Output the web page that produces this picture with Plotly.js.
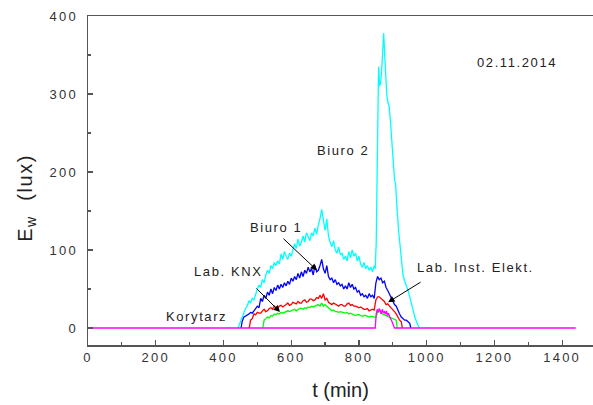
<!DOCTYPE html>
<html>
<head>
<meta charset="utf-8">
<script src="https://cdn.plot.ly/plotly-3.0.1.min.js"></script>
<style>
  html, body { margin: 0; padding: 0; background: #fff; }
  #chart { width: 593px; height: 405px; }
  .xtick text, .ytick text { letter-spacing: 2.2px; }
  .annotation-text { letter-spacing: 1.6px; }
</style>
</head>
<body>
<div id="chart"></div>
<script>
// ---- Data (time in minutes, illuminance in lux) ----
// Biuro 2 (cyan)
const biuro2T = [443,450,455,460,465,470,475,480,485,490,495,500,505,510,515,520,525,530,535,540,545,550,555,560,565,570,575,580,585,590,595,600,605,610,615,620,625,630,635,640,645,650,655,660,665,670,675,680,685,690,695,700,705,710,715,720,725,730,735,740,745,750,755,760,765,770,775,780,785,790,795,800,805,810,815,820,825,830,835,840,845,848,851,853,856,858,861,864,867,870,873,876,879,882,885,889,893,897,901,905,908,910,913,917,921,925,930,935,940,945,950,955,960,965,970,975,978];
const biuro2V = [0,8,15,20,25,28,35,32,38,36,45,50,55,52,62,58,68,74,70,80,76,84,80,86,82,95,88,98,92,88,96,92,100,108,102,114,105,110,118,110,122,116,112,122,118,128,120,132,140,152,135,125,140,118,110,104,112,100,96,104,94,96,88,92,86,98,90,100,92,96,86,92,82,78,84,76,80,74,78,72,80,76,110,200,320,335,310,315,330,355,378,350,320,300,290,285,265,240,215,190,185,165,150,125,105,95,68,60,55,48,40,30,20,14,8,3,0];

// Biuro 1 (blue): first sample, then 5-min samples from 455 to 950, last sample
const biuro1Start = 452, biuro1End = 953, biuro1Grid0 = 455;
const biuro1V = [8,14,15,16,18,20,19,22,25,28, 26,38,34,42,38,46,42,50,44,52, 48,55,50,56,52,58,54,60,56,64, 60,66,62,70,64,72,66,74,70,78, 72,76,68,80,72,74,80,88,76,70, 80,66,62,64,58,62,56,58,54,56, 50,54,50,58,52,56,50,52,46,48, 42,44,40,42,38,44,40,42,38,58, 66,62,64,58,60,52,48,44,40,36, 30,28,22,18,14,12,10,10,8,6];

// Lab. Inst. Elekt. (red): 5-min samples from 480 to 925
const labInstStart = 476, labInstEnd = 928, labInstGrid0 = 480;
const labInstV = [10,12,18,17,20,19,19,22,24,21, 22,25,26,24,28,26,26,28,29,27, 28,30,32,29,30,33,32,31,34,32, 32,35,36,33,34,37,37,35,36,39, 38,42,38,44,36,38,33,31,30,32, 31,29,28,30,30,28,28,31,32,29, 30,28,28,27,26,27,25,24,24,25, 22,23,24,23,36,40,40,38,36,34, 30,31,28,26,24,21,18,14,10,8];

// Lab. KNX (green): 5-min samples from 520 to 910
const labKnxStart = 516, labKnxEnd = 913, labKnxGrid0 = 520;
const labKnxV = [10,12,14,13,16,15,18,17,19,18, 20,19,20,21,22,21,22,23,24,22, 24,25,25,24,26,25,27,26,28,27, 28,29,30,28,32,28,30,28,26,24, 22,23,21,21,20,21,20,19,19,20, 18,19,18,17,16,17,17,16,15,16, 16,15,14,15,15,14,14,20,22,19, 18,17,16,15,14,13,12,11,10];

// Korytarz (magenta)
const korytarzT = [0,848,851,854,857,860,863,866,869,872,875,878,881,884,887,890,893,896,899,902,905,1440];
const korytarzV = [0,0,18,24,20,25,22,18,24,20,21,18,22,16,19,14,12,10,6,3,0,0];

const xTicks = [0,200,400,600,800,1000,1200,1400];
const yTicks = [0,100,200,300,400];

// build time arrays for the 5-minute sampled series
function sampled(start, grid0, n, end, step) {
  const t = [start];
  for (let i = 0; i < n; i++) t.push(grid0 + i * step);
  t.push(end);
  return t;
}
const biuro1T = sampled(biuro1Start, biuro1Grid0, biuro1V.length, biuro1End, 5);
const labInstT = sampled(labInstStart, labInstGrid0, labInstV.length, labInstEnd, 5);
const labKnxT = sampled(labKnxStart, labKnxGrid0, labKnxV.length, labKnxEnd, 5);

const line = (x, y, color) => ({
  x, y, type: 'scatter', mode: 'lines',
  line: {color, width: 1.3}, hoverinfo: 'skip'
});

const traces = [
  line(biuro2T, biuro2V, '#00FFFF'),
  line(biuro1T, [0].concat(biuro1V, [0]), '#0000FF'),
  line(labInstT, [0].concat(labInstV, [0]), '#FF0000'),
  line(labKnxT, [0].concat(labKnxV, [0]), '#00FF00'),
  line(korytarzT, korytarzV, '#FF00FF')
];

const txtFont = {family: 'Liberation Sans, Arial, sans-serif', size: 13, color: '#222'};
const label = (text, x, y) => ({x, y, xref: 'x', yref: 'y', text, showarrow: false, font: txtFont});
const arrow = (x, y, ax, ay) => ({x, y, xref: 'x', yref: 'y', text: '', showarrow: true,
  arrowhead: 2, arrowsize: 1.3, arrowwidth: 1, arrowcolor: '#000', ax, ay, standoff: 0});

const layout = {
  width: 593, height: 405,
  margin: {l: 88, r: 0, t: 16, b: 60},
  paper_bgcolor: '#fff', plot_bgcolor: '#fff',
  showlegend: false,
  font: {family: 'Liberation Sans, Arial, sans-serif', color: '#333'},
  xaxis: {
    range: [0, 1491], showgrid: false, zeroline: false,
    showline: true, linecolor: '#555', linewidth: 1.5, mirror: true,
    ticks: 'inside', ticklen: 5, tickwidth: 1.2, tickcolor: '#555',
    tickvals: xTicks, ticktext: xTicks.map(String),
    minor: {dtick: 100, tick0: 0, ticks: 'inside', ticklen: 3, tickcolor: '#555', tickwidth: 1.2},
    tickfont: {size: 13, color: '#333'},
    title: {text: 't (min)', font: {size: 20, color: '#222'}, standoff: 19}
  },
  yaxis: {
    range: [-21.8, 400], showgrid: false, zeroline: false,
    showline: true, linecolor: '#555', linewidth: 1.5, mirror: false,
    ticks: 'inside', ticklen: 5, tickwidth: 1.2, tickcolor: '#555',
    tickvals: yTicks, ticktext: yTicks.map(String),
    minor: {dtick: 50, tick0: 0, ticks: 'inside', ticklen: 3, tickcolor: '#555', tickwidth: 1.2},
    tickfont: {size: 13, color: '#333'}, ticklabelstandoff: 6
  },
  annotations: [
    {text: 'E<sub>w</sub>  (lux)', xref: 'paper', yref: 'paper', x: -0.121, y: 0.447,
     textangle: -90, showarrow: false, xanchor: 'center', yanchor: 'middle',
     font: {family: 'Liberation Sans, Arial, sans-serif', size: 20, color: '#222'}},
    label('02.11.2014', 1267, 341),
    label('Biuro 2', 753, 227),
    label('Biuro 1', 555, 129),
    label('Lab. KNX', 413, 72),
    label('Korytarz', 319, 15),
    label('Lab. Inst. Elekt.', 1143, 77),
    arrow(676, 74, -35, -33),
    arrow(567, 20.5, -25, -25),
    arrow(886, 33, 34, -21)
  ]
};

Plotly.newPlot('chart', traces, layout, {staticPlot: true, displayModeBar: false});
</script>
</body>
</html>
